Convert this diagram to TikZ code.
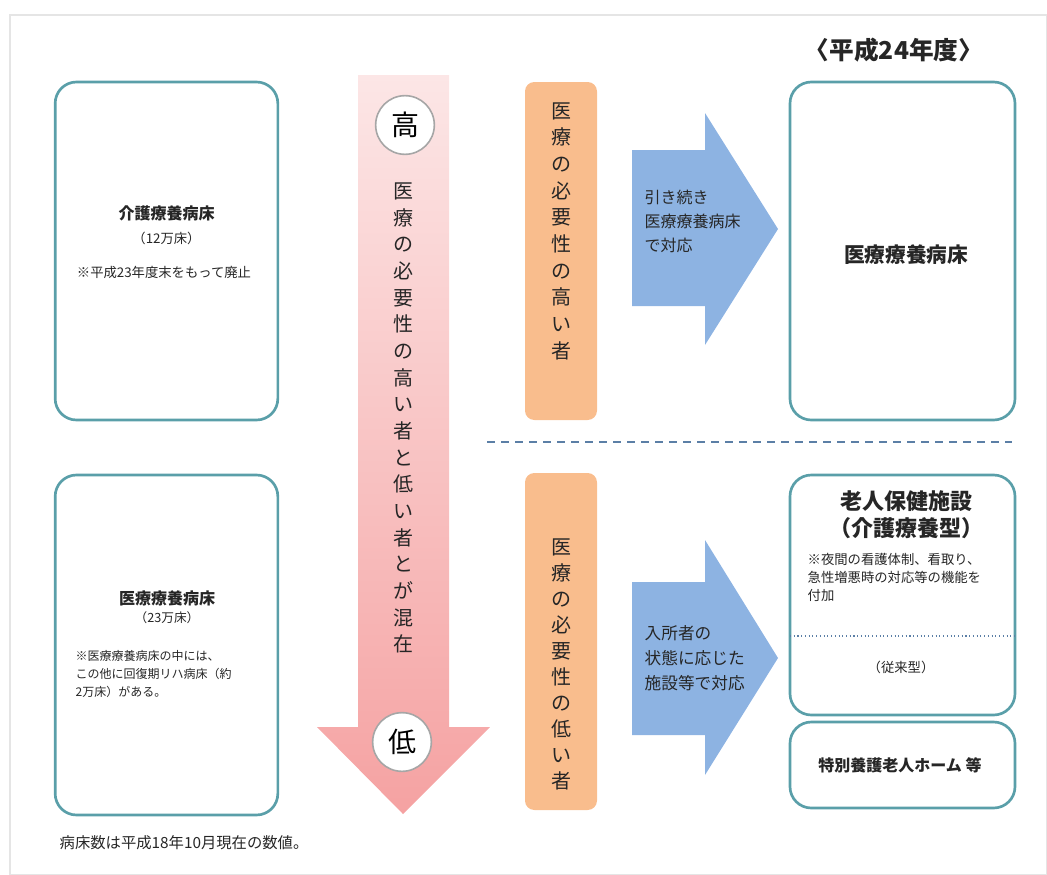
\documentclass[tikz,border=0pt]{standalone}
\usepackage{fontspec}
\setmainfont{Noto Sans CJK JP}
\usetikzlibrary{calc}
\definecolor{boxborder}{HTML}{5A9FA9}
\definecolor{orangebar}{HTML}{F9BD8D}
\definecolor{bluearrow}{HTML}{8DB3E2}
\definecolor{pinktop}{HTML}{FCE6E6}
\definecolor{pinkbot}{HTML}{F5A2A2}
\definecolor{dashcol}{HTML}{5B7FA6}
\definecolor{txt}{HTML}{262626}
\tikzset{
  roundbox/.style={draw=boxborder, line width=2pt, rounded corners=16pt, fill=white, inner sep=0pt},
  obar/.style={fill=orangebar, rounded corners=7pt, inner sep=0pt, minimum width=54pt},
  small/.style={font=\fontsize{9}{13.5}\selectfont, text=txt},
  smallb/.style={font=\bfseries\fontsize{12}{14}\selectfont, text=txt},
  vtext/.style={align=center, text=txt},
  circ/.style={circle, draw=gray!70, line width=1.2pt, fill=white, minimum size=44pt, inner sep=0pt, font=\fontsize{21}{21}\selectfont}
}
\begin{document}
\begin{tikzpicture}[x=0.75pt,y=-0.75pt]
\useasboundingbox (0,0) rectangle (1047,875);
% faint outer frame
\draw[gray!20, line width=0.8pt] (10,15) rectangle (1047,875);

% header
\node[font=\bfseries\fontsize{18.5}{18.5}\selectfont, text=txt] (hdr) at (894,50) {〈平成24年度〉};

% left boxes
\node[roundbox, minimum width=167pt, minimum height=253.5pt] (lt) at (166.5,251) {};
\node[smallb] (lt1) at (166.5,213) {介護療養病床};
\node[small, font=\fontsize{10}{12}\selectfont] (lt2) at (166.5,238) {（12万床）};
\node[small, font=\fontsize{10}{12}\selectfont] (lt3) at (164,272) {※平成23年度末をもって廃止};

\node[roundbox, minimum width=167pt, minimum height=255pt] (lb) at (166.5,645) {};
\node[smallb] (lb1) at (167,598) {医療療養病床};
\node[small, font=\fontsize{9.5}{12}\selectfont] (lb2) at (167,618) {（23万床）};
\node[small, align=left, anchor=north west] (lb3) at (71,646) {※医療療養病床の中には、\\この他に回復期リハ病床（約\\2万床）がある。};

% big pink arrow
\shade[top color=pinktop, bottom color=pinkbot] (358,75) -- (449,75) -- (449,727) -- (490,727) -- (403,814) -- (317,727) -- (358,727) -- cycle;
\node[circ] (hi) at (405,125) {高};
\node[circ] (lo) at (402,742) {低};
\node[vtext, font=\fontsize{15}{20}\selectfont, anchor=north] (mix) at (403,178) {医\\療\\の\\必\\要\\性\\の\\高\\い\\者\\と\\低\\い\\者\\と\\が\\混\\在};

% orange bars
\node[obar, minimum height=253.5pt] (ot) at (561,251) {};
\node[vtext, font=\fontsize{15}{20}\selectfont] (otx) at (561,231) {医\\療\\の\\必\\要\\性\\の\\高\\い\\者};
\node[obar, minimum height=252.75pt] (ob) at (561,641.5) {};
\node[vtext, font=\fontsize{15}{19.5}\selectfont] (obx) at (561,664) {医\\療\\の\\必\\要\\性\\の\\低\\い\\者};

% blue arrows
\fill[bluearrow] (632,150) -- (705,150) -- (705,113) -- (778,229) -- (705,345) -- (705,306) -- (632,306) -- cycle;
\node[align=left, anchor=west, text=txt, font=\fontsize{12}{18}\selectfont] (ba1) at (640,221) {引き続き\\医療療養病床\\で対応};
\fill[bluearrow] (632,582) -- (705,582) -- (705,540) -- (778,658) -- (705,775) -- (705,735) -- (632,735) -- cycle;
\node[align=left, anchor=west, text=txt, font=\fontsize{12.5}{18.75}\selectfont] (ba2) at (640,658) {入所者の\\状態に応じた\\施設等で対応};

% dashed divider
\coordinate (d1) at (487,442);
\coordinate (d2) at (1012,442);
\draw[dashcol, line width=1.2pt, dash pattern=on 6pt off 4.5pt] (d1) -- (d2);

% right boxes
\node[roundbox, minimum width=168.75pt, minimum height=253.5pt] (rt) at (902.5,251) {};
\node[font=\bfseries\fontsize{15.5}{15.5}\selectfont, text=txt] (rt1) at (906,255) {医療療養病床};

\node[roundbox, minimum width=168.75pt, minimum height=180pt] (rb1) at (902.5,595) {};
\node[font=\bfseries\fontsize{16.5}{20}\selectfont, text=txt, align=center] (rb1t) at (906,515) {老人保健施設\\（介護療養型）};
\node[align=left, anchor=north west, text=txt, font=\fontsize{10}{13.5}\selectfont] (rb1n) at (803,549) {※夜間の看護体制、看取り、\\急性増悪時の対応等の機能を\\付加};
\coordinate (dl) at (790,636);
\coordinate (dr) at (1015,636);
\draw[dashcol, line width=0.8pt, dotted] (dl) -- (dr);
\node[text=txt, font=\fontsize{10}{12}\selectfont] (rb1b) at (901,667) {（従来型）};

\node[roundbox, minimum width=168.75pt, minimum height=64.5pt] (rb2) at (902.5,765) {};
\node[font=\bfseries\fontsize{12}{14}\selectfont, text=txt] (rb2t) at (900,765) {特別養護老人ホーム 等};

% footnote
\node[anchor=west, text=txt, font=\fontsize{11.5}{14}\selectfont] (foot) at (55,843) {病床数は平成18年10月現在の数値。};
\end{tikzpicture}
\end{document}
